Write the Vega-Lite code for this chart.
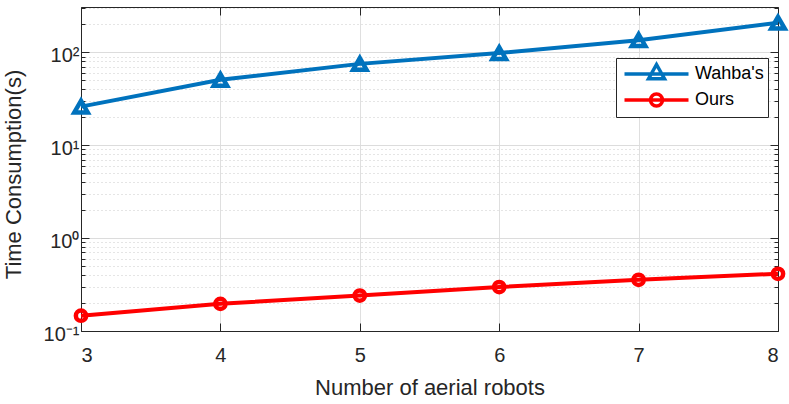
{
  "$schema": "https://vega.github.io/schema/vega-lite/v6.json",
  "autosize": "none",
  "padding": {"left": 81, "top": 7, "right": 11, "bottom": 73},
  "width": 697,
  "height": 324,
  "background": "white",
  "config": {
    "view": {"stroke": null},
    "font": "Liberation Sans",
    "axis": {
      "domainColor": "#262626",
      "domainWidth": 1,
      "tickColor": "#262626",
      "tickWidth": 1,
      "labelColor": "#262626",
      "titleColor": "#262626",
      "labelFont": "Liberation Sans",
      "titleFont": "Liberation Sans",
      "labelFontSize": 20,
      "titleFontSize": 22,
      "titleFontWeight": "normal"
    }
  },
  "data": {
    "values": [
      {"n": 3, "series": "Wahba's", "t": 26},
      {"n": 4, "series": "Wahba's", "t": 50.5},
      {"n": 5, "series": "Wahba's", "t": 75},
      {"n": 6, "series": "Wahba's", "t": 98},
      {"n": 7, "series": "Wahba's", "t": 135},
      {"n": 8, "series": "Wahba's", "t": 208},
      {"n": 3, "series": "Ours", "t": 0.146},
      {"n": 4, "series": "Ours", "t": 0.196},
      {"n": 5, "series": "Ours", "t": 0.241},
      {"n": 6, "series": "Ours", "t": 0.297},
      {"n": 7, "series": "Ours", "t": 0.356},
      {"n": 8, "series": "Ours", "t": 0.413}
    ]
  },
  "resolve": {"axis": {"x": "independent", "y": "independent"}},
  "layer": [
    {
      "mark": {"type": "line", "strokeWidth": 4, "clip": false},
      "encoding": {
        "x": {
          "field": "n", "type": "quantitative",
          "scale": {"domain": [3, 8], "nice": false, "zero": false},
          "axis": {
            "orient": "bottom",
            "values": [3, 4, 5, 6, 7, 8],
            "title": "Number of aerial robots",
            "tickSize": -8,
            "labelPadding": 22,
            "grid": true,
            "gridColor": "#dfdfdf",
            "gridWidth": 1,
            "titleY": 56,
            "titleBaseline": "middle"
          }
        },
        "y": {
          "field": "t", "type": "quantitative",
          "scale": {"type": "log", "domain": [0.1, 307], "nice": false},
          "axis": {
            "orient": "left",
            "values": [0.1,0.2,0.3,0.4,0.5,0.6,0.7,0.8,0.9,1,2,3,4,5,6,7,8,9,10,20,30,40,50,60,70,80,90,100,200,300],
            "labelExpr": "abs(log(datum.value)/LN10 - round(log(datum.value)/LN10)) > 0.01 ? '' : round(log(datum.value)/LN10) == 2 ? '10²' : round(log(datum.value)/LN10) == 1 ? '10¹' : round(log(datum.value)/LN10) == 0 ? '10⁰' : '10⁻¹'",
            "labelOverlap": false,
            "labelPadding": 10,
            "labelOffset": 3,
            "tickSize": {"condition": {"test": "abs(log(datum.value)/LN10 - round(log(datum.value)/LN10)) < 0.01", "value": -8}, "value": -4},
            "grid": true,
            "gridColor": {"condition": {"test": "abs(log(datum.value)/LN10 - round(log(datum.value)/LN10)) < 0.01", "value": "#dcdcdc"}, "value": "#cbcbcb"},
            "gridDash": {"condition": {"test": "abs(log(datum.value)/LN10 - round(log(datum.value)/LN10)) < 0.01", "value": []}, "value": [1, 3]},
            "title": "Time Consumption(s)",
            "titleX": -68,
            "titleY": 167,
            "titleAngle": -90,
            "titleAlign": "center",
            "titleBaseline": "middle"
          }
        },
        "color": {
          "field": "series", "type": "nominal",
          "scale": {"domain": ["Wahba's", "Ours"], "range": ["#0072BD", "#FF0000"]},
          "legend": {
            "title": null,
            "orient": "none",
            "legendX": 535,
            "legendY": 51,
            "fillColor": "white",
            "strokeColor": "#262626",
            "padding": 4,
            "rowPadding": 1,
            "symbolSize": 400,
            "symbolStrokeWidth": 3.5,
            "symbolOffset": 24.5,
            "labelOffset": 26.5,
            "labelFont": "Liberation Sans",
            "labelFontSize": 18,
            "labelColor": "black",
            "encode": {
              "symbols": {
                "update": {
                  "shape": {"signal": "datum.value === 'Ours' ? 'M-3.2,0L3.2,0M0.6,0A0.6,0.6,0,1,1,-0.6,0A0.6,0.6,0,1,1,0.6,0Z' : 'M-3.2,0L3.2,0M-0.8,0.48L0,-0.95L0.8,0.48Z'"},
                  "fill": {"value": "transparent"},
                  "strokeWidth": {"value": 3.5}
                }
              }
            }
          }
        }
      }
    },
    {
      "mark": {"type": "point", "filled": false, "fill": "transparent", "strokeWidth": 4.5, "opacity": 1, "clip": false},
      "encoding": {
        "x": {
          "field": "n", "type": "quantitative",
          "axis": {
            "orient": "top",
            "values": [3, 4, 5, 6, 7, 8],
            "labels": false,
            "title": null,
            "tickSize": -8,
            "grid": false
          }
        },
        "y": {
          "field": "t", "type": "quantitative",
          "axis": {
            "orient": "right",
            "values": [0.1,0.2,0.3,0.4,0.5,0.6,0.7,0.8,0.9,1,2,3,4,5,6,7,8,9,10,20,30,40,50,60,70,80,90,100,200,300],
            "labels": false,
            "title": null,
            "grid": false,
            "tickSize": {"condition": {"test": "abs(log(datum.value)/LN10 - round(log(datum.value)/LN10)) < 0.01", "value": -8}, "value": -4}
          }
        },
        "stroke": {"condition": {"test": "datum.series === 'Ours'", "value": "#FF0000"}, "value": "#0072BD"},
        "shape": {"condition": {"test": "datum.series === 'Ours'", "value": "circle"}, "value": "triangle-up"},
        "size": {"condition": {"test": "datum.series === 'Ours'", "value": 105}, "value": 180}
      }
    }
  ]
}
